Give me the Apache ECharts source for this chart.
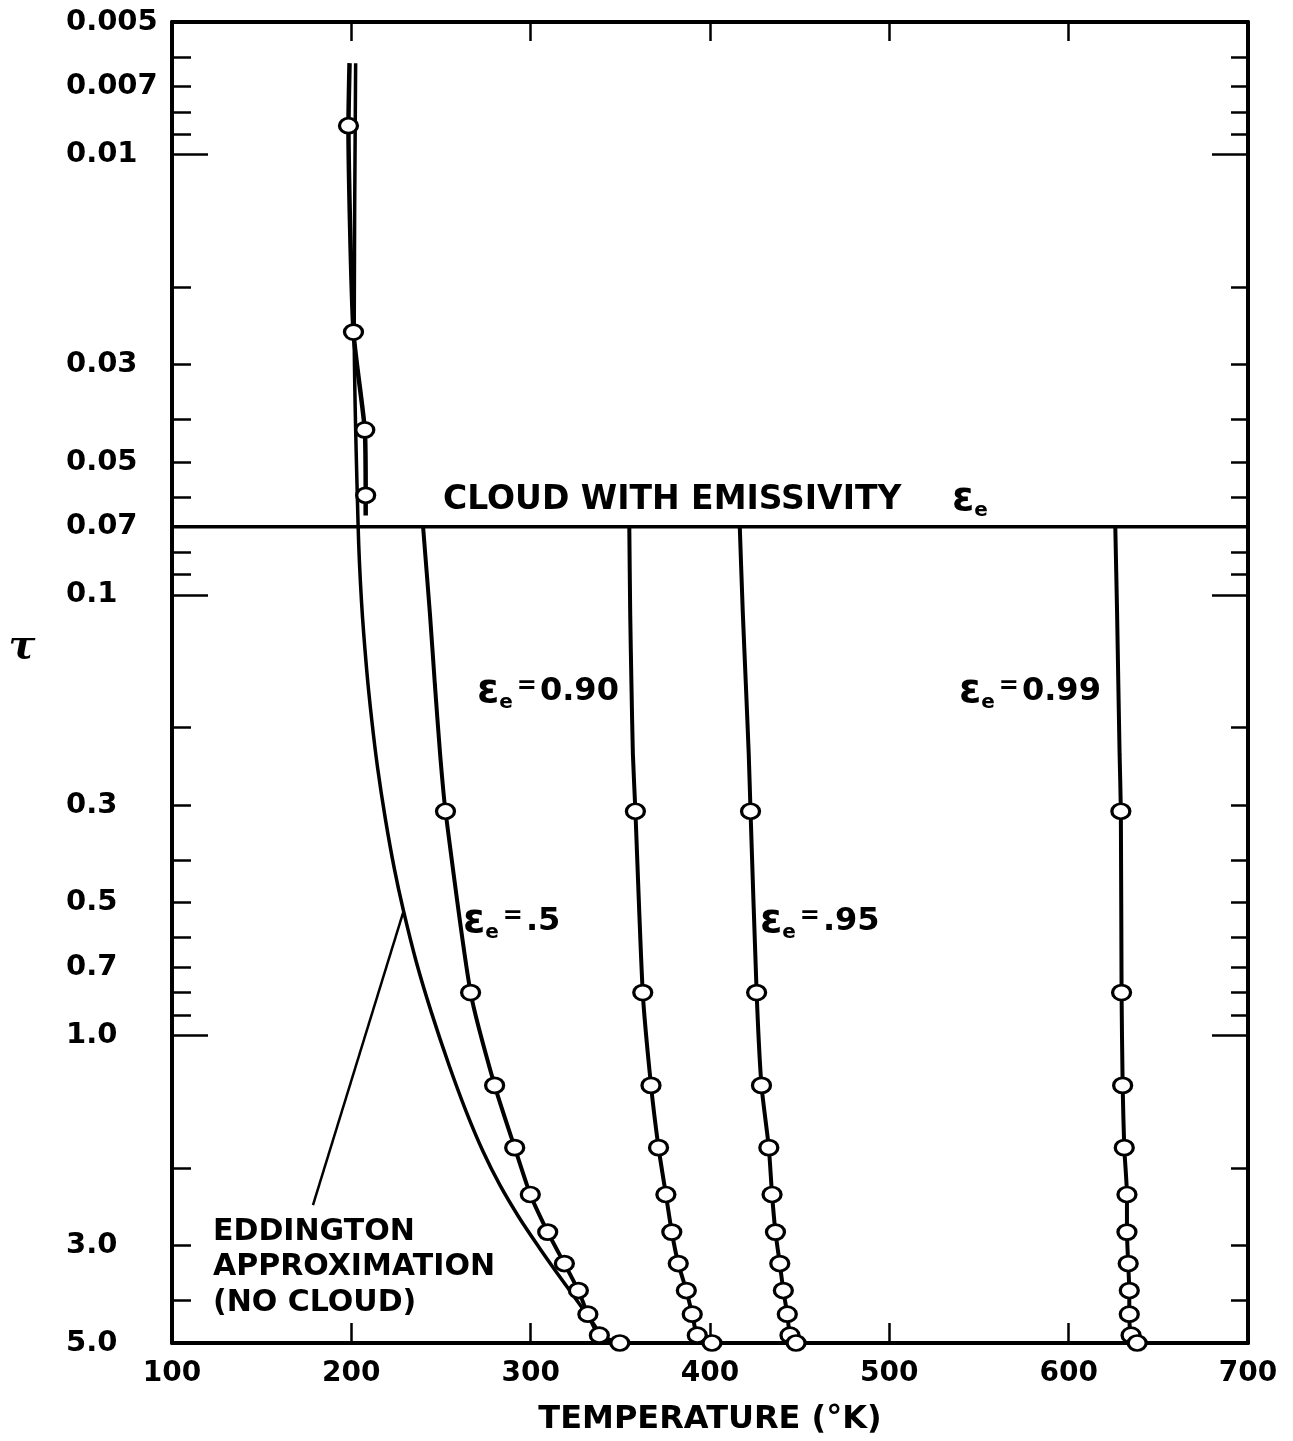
<!DOCTYPE html>
<html><head><meta charset="utf-8">
<script src="https://cdn.jsdelivr.net/npm/echarts/dist/echarts.min.js"></script>
<style>html,body{margin:0;padding:0;background:#fff;}#chart{width:1293px;height:1441px;}</style>
</head><body><div id="chart"></div>
<script>
// ---- axes ----
const T_MIN = 100, T_MAX = 700, T_STEP = 100;
const TAU_MIN = 0.005, TAU_MAX = 5;
const Y_LABEL_VALUES = [0.005, 0.007, 0.01, 0.03, 0.05, 0.07, 0.1, 0.3, 0.5, 0.7, 1.0, 3.0, 5.0];
const Y_LABEL_TEXT = ['0.005', '0.007', '0.01', '0.03', '0.05', '0.07', '0.1', '0.3', '0.5', '0.7', '1.0', '3.0', '5.0'];
const Y_MINOR_TICKS = [0.006, 0.007, 0.008, 0.009, 0.02, 0.03, 0.04, 0.05, 0.06, 0.07, 0.08, 0.09,
                       0.2, 0.3, 0.4, 0.5, 0.6, 0.7, 0.8, 0.9, 2, 3, 4];
const Y_MAJOR_TICKS = [0.01, 0.1, 1.0];

// ---- cloud level ----
const CLOUD_T = [100, 700];
const CLOUD_TAU = [0.07, 0.07];

// ---- cloud cases: unmarked part just below cloud, then marked points ----
const TAU_UPPER = [0.07, 0.11, 0.16, 0.23];
const TAU_MARK = [0.31, 0.8, 1.3, 1.8, 2.3, 2.8, 3.3, 3.8, 4.3, 4.8, 5.0];
const T_E50_UPPER = [240, 243.8, 246.6, 249.5];
const T_E50 = [252.5, 266.5, 279.9, 291.1, 299.8, 309.5, 318.8, 326.6, 331.9, 338.3, 349.7];
const T_E90_UPPER = [355, 355.5, 356.2, 357];
const T_E90 = [358.4, 362.5, 367.1, 371.3, 375.4, 378.7, 382.3, 386.8, 390.1, 392.9, 401.1];
const T_E95_UPPER = [416.6, 418.3, 420, 421.6];
const T_E95 = [422.6, 426, 428.7, 432.8, 434.6, 436.5, 438.9, 440.9, 443.1, 444.6, 448];
const T_E99_UPPER = [626, 627, 627.7, 628.4];
const T_E99 = [629.1, 629.5, 630.1, 631, 632.5, 632.5, 633.2, 633.8, 633.8, 634.8, 638.2];

// ---- above-cloud profile ----
const TAU_ABOVE = [0.0062, 0.0086, 0.0253, 0.0422, 0.0594, 0.066];
const T_ABOVE = [199, 198.4, 201.2, 207.5, 208, 208];
const ABOVE_MARKED = [false, true, true, true, true, false];

// ---- Eddington approximation (no cloud) ----
const TAU_EDD = [0.0062, 0.025, 0.07, 0.104, 0.147, 0.191, 0.248, 0.323, 0.419, 0.52, 0.681, 0.884,
                 1.17, 1.489, 1.835, 2.188, 2.604, 3.045, 3.434, 3.886, 4.388, 4.873, 5.0];
const T_EDD = [202.4, 201.6, 203.8, 205.7, 208.5, 211.3, 214.7, 219, 224, 229, 236.2, 244.5,
               254.5, 264, 273.4, 282.8, 293.8, 305, 314, 323.5, 332.8, 340.6, 342.8];

// ---- annotation arrow (data coords) ----
const ARROW_FROM = [178.6, 2.43];
const ARROW_TO = [229.3, 0.52];

const FONT = '"DejaVu Sans", "Liberation Sans", sans-serif';
const BLACK = '#000';

function markerStyle() {
  return {
    symbol: 'circle', symbolSize: [18, 15],
    itemStyle: {color: '#fff', borderColor: BLACK, borderWidth: 3},
    lineStyle: {color: BLACK, width: 4},
  };
}
function cloudSeries(name, tUpper, tMark) {
  const data = [];
  TAU_UPPER.forEach((tau, i) => data.push({value: [tUpper[i], tau], symbol: 'none'}));
  TAU_MARK.forEach((tau, i) => data.push({value: [tMark[i], tau]}));
  return Object.assign({type: 'line', name, data, smooth: 0.2, clip: false, z: 4,
    xAxisIndex: 0, yAxisIndex: 0, silent: true}, markerStyle());
}

const LOG_MIN = Math.log10(TAU_MIN), LOG_MAX = Math.log10(TAU_MAX);
const toLog = v => Math.log10(v);
function yLabel(v) {
  const i = Y_LABEL_VALUES.findIndex(x => Math.abs(Math.log10(x) - v) < 1e-6);
  return i >= 0 ? Y_LABEL_TEXT[i] : '';
}
const tickStyle = {color: BLACK, width: 2.5};
const labelStyle = {color: BLACK, fontSize: 28, fontWeight: 'bold', fontFamily: FONT};

function helperY(position, opts) {
  return Object.assign({
    type: 'value', min: LOG_MIN, max: LOG_MAX, inverse: true, position,
    axisLine: {show: false, onZero: false},
    axisTick: {show: false},
    axisLabel: {show: false},
    splitLine: {show: false}
  }, opts);
}

const RICH = {
  e: {fontSize: 40, fontWeight: 'bold', fontFamily: FONT, fill: BLACK, color: BLACK},
  s: {fontSize: 20, fontWeight: 'bold', fontFamily: FONT, fill: BLACK, color: BLACK, padding: [22, 2, 0, 0]},
  q: {fontSize: 24, fontWeight: 'bold', fontFamily: FONT, fill: BLACK, color: BLACK, padding: [0, 3, 10, 2]},
  n: {fontSize: 32, fontWeight: 'bold', fontFamily: FONT, fill: BLACK, color: BLACK}
};
function epsText(x, y, val) {
  const txt = val == null ? '{e|ε}{s|e}' : '{e|ε}{s|e}{q|=}{n|' + val + '}';
  return {type: 'text', x, y, silent: true,
    style: {text: txt, rich: RICH, fill: BLACK, align: 'left', textAlign: 'left',
            verticalAlign: 'middle', textVerticalAlign: 'middle'}};
}

const aboveData = TAU_ABOVE.map((tau, i) => ABOVE_MARKED[i] ? {value: [T_ABOVE[i], tau]} : {value: [T_ABOVE[i], tau], symbol: 'none'});

const option = {
  animation: false,
  backgroundColor: '#fff',
  grid: {left: 172, right: 45, top: 22, bottom: 96, containLabel: false},
  xAxis: [
    {type: 'value', position: 'bottom', min: T_MIN, max: T_MAX, interval: T_STEP,
     axisLine: {show: true, onZero: false, lineStyle: {color: BLACK, width: 4}},
     axisTick: {show: true, inside: true, length: 20, lineStyle: tickStyle},
     axisLabel: Object.assign({show: true, margin: 17}, labelStyle),
     splitLine: {show: false},
     name: 'TEMPERATURE (°K)', nameLocation: 'middle', nameGap: 61,
     nameTextStyle: {color: BLACK, fontSize: 32, fontWeight: 'bold', fontFamily: FONT}},
    {type: 'value', position: 'top', min: T_MIN, max: T_MAX, interval: T_STEP,
     axisLine: {show: true, onZero: false, lineStyle: {color: BLACK, width: 4}},
     axisTick: {show: true, inside: true, length: 19, lineStyle: tickStyle},
     axisLabel: {show: false}, splitLine: {show: false}}
  ],
  yAxis: [
    {type: 'log', logBase: 10, min: TAU_MIN, max: TAU_MAX, inverse: true, position: 'left',
     axisLine: {show: true, onZero: false, lineStyle: {color: BLACK, width: 4}},
     axisTick: {show: false}, axisLabel: {show: false}, splitLine: {show: false},
     minorTick: {show: false}, minorSplitLine: {show: false}},
    helperY('left', {
      axisTick: {show: true, inside: true, length: 19, customValues: Y_MINOR_TICKS.map(toLog), lineStyle: tickStyle},
      axisLabel: Object.assign({show: true, customValues: Y_LABEL_VALUES.map(toLog), formatter: yLabel,
        align: 'left', margin: 106}, labelStyle, {fontSize: 29})
    }),
    helperY('left', {
      axisTick: {show: true, inside: true, length: 36, customValues: Y_MAJOR_TICKS.map(toLog), lineStyle: tickStyle}
    }),
    helperY('right', {
      axisLine: {show: true, onZero: false, lineStyle: {color: BLACK, width: 4}},
      axisTick: {show: true, inside: true, length: 17, customValues: Y_MINOR_TICKS.map(toLog), lineStyle: tickStyle}
    }),
    helperY('right', {
      axisTick: {show: true, inside: true, length: 36, customValues: Y_MAJOR_TICKS.map(toLog), lineStyle: tickStyle}
    })
  ],
  series: [
    {type: 'line', name: 'cloud', xAxisIndex: 0, yAxisIndex: 0, silent: true,
     data: CLOUD_T.map((t, i) => [t, CLOUD_TAU[i]]), symbol: 'none',
     lineStyle: {color: BLACK, width: 3.5}, z: 3},
    {type: 'line', name: 'Eddington', xAxisIndex: 0, yAxisIndex: 0, silent: true, clip: false,
     data: TAU_EDD.map((tau, i) => [T_EDD[i], tau]), symbol: 'none', smooth: 0.3,
     lineStyle: {color: BLACK, width: 3.5}, z: 3,
     markLine: {silent: true, animation: false, symbol: ['none', 'arrow'], symbolSize: [0, 16],
       label: {show: false}, lineStyle: {color: BLACK, width: 2.5, type: 'solid'},
       emphasis: {disabled: true},
       data: [[{coord: ARROW_FROM}, {coord: ARROW_TO}]]}},
    Object.assign({type: 'line', name: 'above cloud', xAxisIndex: 0, yAxisIndex: 0, silent: true,
      data: aboveData, smooth: 0.2, clip: false, z: 4}, markerStyle(), {lineStyle: {color: BLACK, width: 4.5}}),
    cloudSeries('ε=.5', T_E50_UPPER, T_E50),
    cloudSeries('ε=0.90', T_E90_UPPER, T_E90),
    cloudSeries('ε=.95', T_E95_UPPER, T_E95),
    cloudSeries('ε=0.99', T_E99_UPPER, T_E99)
  ],
  graphic: [
    {type: 'text', x: 443, y: 500, silent: true,
     style: {text: 'CLOUD WITH EMISSIVITY', font: 'bold 33px ' + FONT, fill: BLACK,
             verticalAlign: 'middle', textVerticalAlign: 'middle'}},
    epsText(952, 500, null),
    epsText(477, 692, '0.90'),
    epsText(959, 692, '0.99'),
    epsText(463, 922, '.5'),
    epsText(760, 922, '.95'),
    {type: 'text', x: 213, y: 1214, silent: true,
     style: {text: 'EDDINGTON\nAPPROXIMATION\n(NO CLOUD)', font: 'bold 30px ' + FONT, fill: BLACK,
             lineHeight: 35.5, verticalAlign: 'top', textVerticalAlign: 'top'}},
    {type: 'text', x: 22, y: 648, silent: true,
     style: {text: 'τ', font: 'italic bold 40px "DejaVu Serif", serif', fill: BLACK,
             align: 'center', textAlign: 'center', verticalAlign: 'middle', textVerticalAlign: 'middle'}}
  ]
};

const chart = echarts.init(document.getElementById('chart'), null, {renderer: 'canvas'});
chart.setOption(option);
</script>
</body></html>
